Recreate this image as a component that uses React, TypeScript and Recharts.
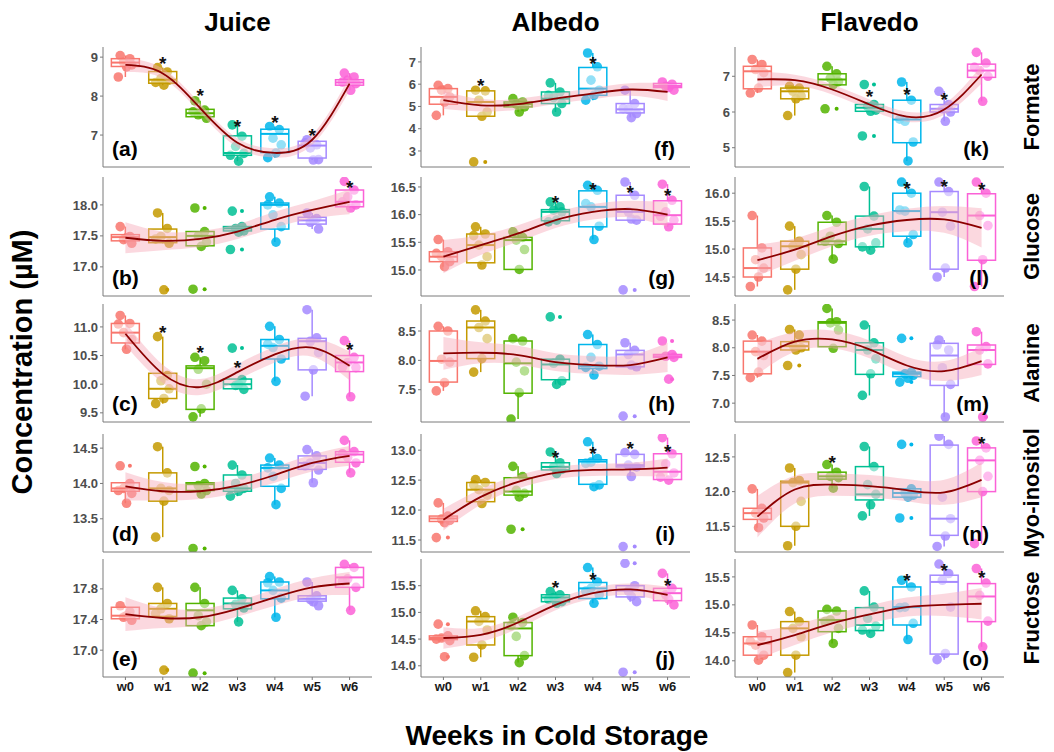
import React from "react";
import { ComposedChart, Bar, Line, Area, Scatter, XAxis, YAxis } from "recharts";

const WEEKS = ["w0", "w1", "w2", "w3", "w4", "w5", "w6"];
const TISSUES = ["Juice", "Albedo", "Flavedo"];
const METABOLITES = ["Formate", "Glucose", "Alanine", "Myo-inositol", "Fructose"];
const COLORS = ["#F8766D", "#C49A00", "#53B400", "#00C094", "#00B6EB", "#A58AFF", "#FB61D7"];
const JITTER = [-0.14, 0.12, -0.05, 0.17, 0.03, -0.19];

// box stats per week: [lower whisker, q1, median, q3, upper whisker]
// ---- Juice ----
const boxesA = [[8.49, 8.76, 8.86, 8.96, 9.04], [8.28, 8.33, 8.42, 8.63, 8.73], [7.43, 7.47, 7.56, 7.66, 7.88], [6.33, 6.48, 6.54, 6.98, 7.26], [6.42, 6.55, 7.03, 7.15, 7.22], [6.36, 6.41, 6.73, 6.84, 6.88], [8.15, 8.28, 8.35, 8.42, 8.59]];
const pointsA = [[9.04, 8.96, 8.87, 8.8, 8.75, 8.49], [8.73, 8.62, 8.45, 8.41, 8.28, 8.35], [7.88, 7.64, 7.52, 7.43, 7.56, 7.6], [7.26, 6.97, 6.71, 6.53, 6.33, 6.48], [7.22, 7.14, 6.92, 6.75, 6.54, 6.42], [6.88, 6.75, 6.67, 6.37, 6.36, 6.8], [8.59, 8.49, 8.41, 8.32, 8.15, 8.36]];
const trendA = [8.8, 8.58, 7.69, 6.8, 6.54, 6.88, 8.32];
const bandA = [0.18, 0.13, 0.12, 0.12, 0.12, 0.13, 0.18];
const starsA = [null, 8.93, 8.11, 7.3, 7.41, 7.07, null];
const ticksA = [7, 8, 9];
const domainA = [6.18, 9.26];

const boxesB = [[17.38, 17.42, 17.48, 17.52, 17.65], [17.38, 17.39, 17.48, 17.61, 17.87], [17.33, 17.34, 17.5, 17.57, 17.57], [17.56, 17.58, 17.62, 17.65, 17.65], [17.4, 17.61, 18.0, 18.03, 18.13], [17.61, 17.69, 17.75, 17.8, 17.87], [17.95, 17.97, 18.05, 18.24, 18.38]];
const pointsB = [[17.65, 17.49, 17.44, 17.38, 17.47], [17.87, 17.62, 17.49, 17.38, 16.63, 17.45], [17.95, 17.57, 17.5, 17.4, 17.33, 16.64], [17.9, 17.65, 17.62, 17.58, 17.56, 17.28], [18.13, 18.03, 17.84, 17.65, 17.4, 18.0], [17.87, 17.78, 17.72, 17.61, 17.75], [18.38, 18.24, 18.13, 18.0, 17.95, 18.05]];
const trendB = [17.47, 17.42, 17.45, 17.57, 17.76, 17.92, 18.05];
const bandB = [0.25, 0.15, 0.13, 0.12, 0.13, 0.14, 0.2];
const starsB = [null, null, null, null, null, null, 18.34];
const ticksB = [17.0, 17.5, 18.0];
const domainB = [16.53, 18.45];

const boxesC = [[10.61, 10.72, 10.9, 11.06, 11.2], [9.66, 9.75, 9.92, 10.19, 10.83], [9.43, 9.56, 10.28, 10.32, 10.47], [9.91, 9.92, 10.0, 10.09, 10.09], [10.05, 10.44, 10.67, 10.78, 11.01], [9.79, 10.25, 10.75, 10.8, 11.3], [9.78, 10.22, 10.38, 10.5, 10.76]];
const pointsC = [[11.2, 11.06, 10.9, 10.78, 10.61, 11.05], [10.83, 10.15, 10.06, 9.92, 9.75, 9.66], [10.47, 10.41, 10.26, 10.0, 9.57, 9.43], [10.63, 10.08, 9.98, 9.91, 10.0], [11.01, 10.78, 10.64, 10.44, 10.05, 10.7], [11.3, 10.81, 10.75, 10.55, 10.25, 9.79], [10.76, 10.47, 10.38, 10.29, 9.78, 10.3]];
const trendC = [10.88, 10.18, 9.95, 10.21, 10.52, 10.64, 10.32];
const bandC = [0.2, 0.16, 0.14, 0.14, 0.14, 0.16, 0.25];
const starsC = [null, 10.97, 10.61, 10.35, null, null, 10.67];
const ticksC = [9.5, 10.0, 10.5, 11.0];
const domainC = [9.34, 11.4];

const boxesD = [[13.72, 13.89, 13.93, 14.01, 14.01], [13.24, 13.75, 13.93, 14.15, 14.52], [13.85, 13.9, 13.99, 14.01, 14.01], [13.82, 13.89, 13.93, 14.12, 14.26], [13.7, 13.96, 14.22, 14.26, 14.36], [14.01, 14.2, 14.29, 14.39, 14.48], [14.15, 14.3, 14.41, 14.45, 14.61]];
const pointsD = [[14.25, 14.0, 13.93, 13.86, 13.72, 13.9], [14.52, 14.15, 13.93, 13.9, 13.75, 13.24], [14.24, 14.0, 13.97, 13.9, 13.85, 13.08], [14.26, 14.12, 14.0, 13.93, 13.89, 13.82], [14.36, 14.26, 14.1, 13.93, 13.7, 14.22], [14.48, 14.39, 14.29, 14.19, 14.01, 14.25], [14.61, 14.45, 14.37, 14.29, 14.15, 14.42]];
const trendD = [13.96, 13.89, 13.89, 13.97, 14.12, 14.29, 14.39];
const bandD = [0.2, 0.13, 0.11, 0.1, 0.11, 0.12, 0.14];
const starsD = [null, null, null, null, null, null, null];
const ticksD = [13.5, 14.0, 14.5];
const domainD = [13.03, 14.7];

const boxesE = [[17.39, 17.41, 17.45, 17.56, 17.58], [17.41, 17.44, 17.54, 17.61, 17.82], [17.32, 17.32, 17.52, 17.61, 17.82], [17.37, 17.54, 17.61, 17.68, 17.78], [17.43, 17.67, 17.78, 17.89, 17.96], [17.58, 17.64, 17.67, 17.71, 17.89], [17.52, 17.82, 17.95, 18.08, 18.12]];
const pointsE = [[17.58, 17.5, 17.43, 17.39, 17.45], [17.82, 17.61, 17.54, 17.41, 16.74, 17.48], [17.82, 17.61, 17.45, 17.37, 17.32, 16.7], [17.78, 17.67, 17.6, 17.55, 17.37], [17.96, 17.89, 17.78, 17.68, 17.43, 17.88], [17.89, 17.71, 17.66, 17.58, 17.63], [18.12, 18.08, 17.93, 17.82, 17.52, 17.9]];
const trendE = [17.47, 17.42, 17.43, 17.54, 17.69, 17.82, 17.87];
const bandE = [0.22, 0.13, 0.11, 0.1, 0.11, 0.12, 0.15];
const starsE = [null, null, null, null, null, null, null];
const ticksE = [17.0, 17.4, 17.8];
const domainE = [16.65, 18.19];

// ---- Albedo ----
const boxesF = [[4.6, 5.1, 5.43, 5.8, 5.95], [4.56, 4.56, 5.2, 5.7, 5.73], [4.75, 4.98, 5.1, 5.2, 5.35], [4.75, 5.13, 5.35, 5.65, 6.06], [5.28, 5.5, 5.8, 6.75, 7.4], [4.5, 4.71, 4.87, 5.13, 5.73], [5.73, 5.85, 5.92, 6.03, 6.1]];
const pointsF = [[5.95, 5.8, 5.73, 5.43, 5.2, 4.6], [5.73, 5.7, 5.28, 4.75, 4.56, 2.51], [5.35, 5.2, 5.1, 4.98, 4.75], [6.06, 5.65, 5.4, 5.13, 4.75, 5.5], [7.4, 6.78, 6.18, 5.73, 5.5, 5.28], [5.73, 5.13, 4.87, 4.68, 4.5, 4.9], [6.1, 6.0, 5.9, 5.73, 5.85]];
const trendF = [5.28, 5.05, 5.1, 5.35, 5.58, 5.76, 5.65];
const bandF = [0.4, 0.28, 0.25, 0.24, 0.25, 0.28, 0.4];
const starsF = [null, 6.1, null, null, 7.1, null, null];
const ticksF = [3, 4, 5, 6, 7];
const domainF = [2.28, 7.67];

const boxesG = [[15.06, 15.15, 15.24, 15.33, 15.55], [15.09, 15.13, 15.45, 15.65, 15.78], [15.01, 15.01, 15.54, 15.59, 15.69], [15.87, 15.89, 16.05, 16.09, 16.23], [15.55, 15.78, 16.14, 16.43, 16.53], [15.9, 15.9, 16.05, 16.35, 16.59], [15.78, 15.83, 15.99, 16.25, 16.55]];
const pointsG = [[15.55, 15.33, 15.24, 15.15, 15.06, 15.3], [15.78, 15.65, 15.45, 15.24, 15.09, 15.62], [15.69, 15.59, 15.54, 15.37, 15.01], [16.23, 16.14, 16.08, 16.05, 15.9, 15.87], [16.53, 16.44, 16.14, 15.79, 15.55, 16.2], [16.59, 16.35, 16.05, 15.9, 15.92, 14.64], [16.55, 16.26, 16.05, 15.9, 15.78, 15.97]];
const trendG = [15.24, 15.45, 15.66, 15.9, 16.05, 16.1, 16.0];
const bandG = [0.3, 0.18, 0.15, 0.14, 0.14, 0.15, 0.22];
const starsG = [null, null, null, 16.29, 16.51, 16.47, 16.41];
const ticksG = [15.0, 15.5, 16.0, 16.5];
const domainG = [14.53, 16.68];

const boxesH = [[7.48, 7.63, 7.99, 8.5, 8.58], [7.8, 8.03, 8.56, 8.67, 8.86], [7.0, 7.44, 7.95, 8.33, 8.37], [7.59, 7.67, 7.93, 8.02, 8.02], [7.75, 7.86, 7.9, 8.27, 8.44], [7.89, 7.89, 8.1, 8.17, 8.3], [8.04, 8.05, 8.07, 8.1, 8.1]];
const pointsH = [[8.58, 8.5, 8.02, 7.97, 7.62, 7.48], [8.86, 8.67, 8.56, 8.37, 8.03, 7.8], [8.37, 8.33, 7.97, 7.82, 7.45, 7.0], [8.74, 8.02, 7.95, 7.65, 7.59], [8.44, 8.27, 8.05, 7.9, 7.75, 7.88], [8.3, 8.17, 8.1, 7.89, 7.92, 7.05], [8.33, 8.1, 8.07, 8.05, 7.68]];
const trendH = [8.12, 8.13, 8.09, 7.97, 7.92, 7.92, 8.05];
const bandH = [0.28, 0.18, 0.16, 0.15, 0.15, 0.17, 0.25];
const starsH = [null, null, null, null, null, null, null];
const ticksH = [7.0, 7.5, 8.0, 8.5];
const domainH = [6.95, 8.96];

const boxesI = [[11.79, 11.81, 11.86, 11.9, 12.12], [12.11, 12.14, 12.34, 12.46, 12.51], [12.22, 12.25, 12.31, 12.54, 12.73], [12.61, 12.67, 12.72, 12.79, 12.97], [12.39, 12.43, 12.81, 12.84, 13.14], [12.56, 12.72, 12.75, 12.93, 12.96], [12.5, 12.51, 12.64, 12.94, 13.21]];
const pointsI = [[12.12, 11.9, 11.85, 11.83, 11.79, 11.54], [12.51, 12.46, 12.34, 12.25, 12.11, 12.42], [12.73, 12.56, 12.33, 12.28, 12.22, 11.68], [12.97, 12.79, 12.72, 12.68, 12.61], [13.14, 12.86, 12.8, 12.42, 12.39, 12.78], [12.96, 12.93, 12.75, 12.72, 12.56, 11.39], [13.21, 12.94, 12.77, 12.62, 12.5, 12.55]];
const trendI = [11.84, 12.22, 12.47, 12.62, 12.67, 12.68, 12.71];
const bandI = [0.18, 0.13, 0.11, 0.1, 0.1, 0.11, 0.15];
const starsI = [null, null, null, 12.94, 13.01, 13.08, 13.03];
const ticksI = [11.5, 12.0, 12.5, 13.0];
const domainI = [11.3, 13.27];

const boxesJ = [[14.47, 14.49, 14.52, 14.56, 14.56], [14.16, 14.39, 14.83, 14.92, 15.03], [14.06, 14.19, 14.7, 14.81, 14.91], [15.17, 15.2, 15.28, 15.33, 15.39], [15.17, 15.26, 15.45, 15.56, 15.84], [15.2, 15.29, 15.41, 15.5, 15.5], [15.14, 15.22, 15.36, 15.45, 15.73]];
const pointsJ = [[14.78, 14.56, 14.52, 14.47, 14.17, 14.5], [15.03, 14.92, 14.83, 14.67, 14.39, 14.16], [14.91, 14.81, 14.55, 14.19, 14.06, 14.75], [15.39, 15.33, 15.28, 15.2, 15.17, 15.25], [15.84, 15.57, 15.45, 15.33, 15.17, 15.4], [15.92, 15.5, 15.4, 15.2, 15.3, 13.88], [15.73, 15.45, 15.33, 15.14, 15.25]];
const trendJ = [14.52, 14.58, 14.81, 15.14, 15.36, 15.43, 15.33];
const bandJ = [0.2, 0.13, 0.11, 0.1, 0.1, 0.11, 0.15];
const starsJ = [null, null, null, 15.54, 15.68, null, 15.57];
const ticksJ = [14.0, 14.5, 15.0, 15.5];
const domainJ = [13.79, 16.0];

// ---- Flavedo ----
const boxesK = [[6.53, 6.65, 7.14, 7.28, 7.47], [5.9, 6.37, 6.58, 6.67, 6.72], [6.74, 6.76, 6.91, 7.07, 7.28], [6.02, 6.02, 6.12, 6.21, 6.21], [4.63, 5.14, 5.79, 6.33, 6.84], [5.74, 6.0, 6.09, 6.21, 6.58], [6.3, 6.97, 7.16, 7.34, 7.67]];
const pointsK = [[7.47, 7.33, 7.19, 7.1, 6.67, 6.53], [6.72, 6.67, 6.58, 6.45, 6.37, 5.9], [7.28, 7.07, 6.95, 6.85, 6.77, 6.09], [6.77, 6.21, 6.15, 6.05, 6.02, 5.33], [6.84, 6.33, 5.74, 5.16, 4.63, 5.8], [6.58, 6.21, 6.09, 6.0, 5.74], [7.67, 7.37, 7.16, 7.0, 6.3, 7.25]];
const trendK = [6.91, 6.89, 6.63, 6.21, 5.87, 6.07, 7.05];
const bandK = [0.22, 0.15, 0.14, 0.14, 0.14, 0.15, 0.25];
const starsK = [null, null, null, 6.53, 6.58, 6.44, null];
const ticksK = [5, 6, 7];
const domainK = [4.46, 7.82];

const boxesL = [[14.33, 14.5, 14.66, 15.02, 15.6], [14.27, 14.64, 15.05, 15.14, 15.41], [14.82, 15.08, 15.14, 15.48, 15.6], [14.98, 15.04, 15.36, 15.59, 16.12], [15.11, 15.23, 15.68, 16.0, 16.2], [14.5, 14.64, 15.66, 16.03, 16.2], [14.33, 14.8, 15.6, 15.99, 16.2]];
const pointsL = [[15.6, 15.02, 14.81, 14.66, 14.5, 14.33], [15.41, 15.14, 15.05, 14.9, 14.64, 14.27], [15.6, 15.48, 15.23, 15.1, 14.82, 15.14], [16.12, 15.59, 15.36, 15.11, 14.98, 15.04], [16.2, 16.0, 15.68, 15.26, 15.11, 15.7], [16.2, 16.03, 15.66, 15.41, 14.66, 14.5], [16.2, 16.0, 15.6, 15.42, 14.81, 14.33]];
const trendL = [14.8, 14.99, 15.23, 15.42, 15.52, 15.53, 15.38];
const bandL = [0.28, 0.2, 0.18, 0.18, 0.2, 0.24, 0.35];
const starsL = [null, null, null, null, 16.14, 16.19, 16.13];
const ticksL = [14.5, 15.0, 15.5, 16.0];
const domainL = [14.16, 16.29];

const boxesM = [[7.46, 7.53, 7.93, 8.12, 8.23], [7.96, 7.96, 8.03, 8.11, 8.33], [7.99, 8.02, 8.45, 8.47, 8.71], [7.14, 7.52, 7.96, 8.09, 8.41], [7.45, 7.48, 7.53, 7.56, 7.56], [6.75, 7.32, 7.86, 8.08, 8.14], [7.7, 7.7, 7.96, 8.05, 8.29]];
const pointsM = [[8.23, 8.12, 7.93, 7.86, 7.56, 7.46], [8.33, 8.23, 8.05, 8.0, 7.96, 7.68], [8.71, 8.47, 8.45, 8.32, 7.99], [8.41, 8.09, 7.96, 7.8, 7.53, 7.14], [8.17, 7.56, 7.53, 7.5, 7.45, 7.38], [8.14, 7.96, 7.64, 7.34, 6.75, 8.05], [8.29, 8.02, 7.96, 7.71, 6.75]];
const trendM = [7.8, 8.11, 8.15, 7.97, 7.68, 7.58, 7.76];
const bandM = [0.28, 0.18, 0.16, 0.16, 0.16, 0.18, 0.25];
const starsM = [null, null, null, null, null, null, null];
const ticksM = [7.0, 7.5, 8.0, 8.5];
const domainM = [6.66, 8.79];

const boxesN = [[11.48, 11.6, 11.69, 11.76, 12.04], [11.22, 11.5, 12.13, 12.15, 12.34], [12.05, 12.18, 12.22, 12.28, 12.39], [11.65, 11.88, 11.96, 12.36, 12.65], [11.92, 11.92, 11.98, 12.04, 12.04], [11.21, 11.37, 11.61, 12.67, 12.8], [11.25, 12.0, 12.45, 12.63, 12.73]];
const pointsN = [[12.04, 11.76, 11.69, 11.62, 11.48], [12.34, 12.16, 12.13, 11.86, 11.5, 11.22], [12.39, 12.28, 12.22, 12.2, 12.05], [12.65, 12.36, 12.1, 11.96, 11.81, 11.65], [12.68, 12.04, 11.98, 11.95, 11.92, 11.62], [12.8, 12.68, 11.92, 11.61, 11.36, 11.21], [12.73, 12.63, 12.45, 12.22, 12.0, 11.25]];
const trendN = [11.64, 12.03, 12.1, 12.08, 12.02, 11.99, 12.17];
const bandN = [0.3, 0.2, 0.16, 0.16, 0.16, 0.18, 0.25];
const starsN = [null, null, 12.47, null, null, null, 12.74];
const ticksN = [11.5, 12.0, 12.5];
const domainN = [11.13, 12.83];

const boxesO = [[14.01, 14.1, 14.31, 14.43, 14.64], [13.79, 14.1, 14.58, 14.7, 14.88], [14.31, 14.52, 14.73, 14.89, 14.92], [14.49, 14.54, 14.64, 14.95, 15.25], [14.38, 14.64, 14.96, 15.32, 15.44], [14.02, 14.12, 15.41, 15.53, 15.73], [14.25, 14.7, 15.15, 15.38, 15.65]];
const pointsO = [[14.64, 14.43, 14.28, 14.1, 14.01, 14.35], [14.88, 14.7, 14.58, 14.43, 14.1, 13.79], [14.92, 14.89, 14.73, 14.58, 14.31, 14.7], [15.25, 14.96, 14.76, 14.62, 14.49, 14.55], [15.44, 15.32, 14.96, 14.67, 14.38, 14.95], [15.73, 15.56, 15.44, 14.96, 14.13, 14.02], [15.65, 15.39, 15.17, 14.71, 14.25]];
const trendO = [14.28, 14.46, 14.67, 14.83, 14.96, 15.0, 15.02];
const bandO = [0.25, 0.18, 0.16, 0.16, 0.17, 0.2, 0.28];
const starsO = [null, null, null, null, 15.5, 15.68, 15.56];
const ticksO = [14.0, 14.5, 15.0, 15.5];
const domainO = [13.71, 15.82];

// panels listed column by column (Juice a-e, Albedo f-j, Flavedo k-o)
const PANELS = [
  { tag: "a", boxes: boxesA, points: pointsA, trend: trendA, band: bandA, stars: starsA, ticks: ticksA, domain: domainA },
  { tag: "b", boxes: boxesB, points: pointsB, trend: trendB, band: bandB, stars: starsB, ticks: ticksB, domain: domainB },
  { tag: "c", boxes: boxesC, points: pointsC, trend: trendC, band: bandC, stars: starsC, ticks: ticksC, domain: domainC },
  { tag: "d", boxes: boxesD, points: pointsD, trend: trendD, band: bandD, stars: starsD, ticks: ticksD, domain: domainD },
  { tag: "e", boxes: boxesE, points: pointsE, trend: trendE, band: bandE, stars: starsE, ticks: ticksE, domain: domainE },
  { tag: "f", boxes: boxesF, points: pointsF, trend: trendF, band: bandF, stars: starsF, ticks: ticksF, domain: domainF },
  { tag: "g", boxes: boxesG, points: pointsG, trend: trendG, band: bandG, stars: starsG, ticks: ticksG, domain: domainG },
  { tag: "h", boxes: boxesH, points: pointsH, trend: trendH, band: bandH, stars: starsH, ticks: ticksH, domain: domainH },
  { tag: "i", boxes: boxesI, points: pointsI, trend: trendI, band: bandI, stars: starsI, ticks: ticksI, domain: domainI },
  { tag: "j", boxes: boxesJ, points: pointsJ, trend: trendJ, band: bandJ, stars: starsJ, ticks: ticksJ, domain: domainJ },
  { tag: "k", boxes: boxesK, points: pointsK, trend: trendK, band: bandK, stars: starsK, ticks: ticksK, domain: domainK },
  { tag: "l", boxes: boxesL, points: pointsL, trend: trendL, band: bandL, stars: starsL, ticks: ticksL, domain: domainL },
  { tag: "m", boxes: boxesM, points: pointsM, trend: trendM, band: bandM, stars: starsM, ticks: ticksM, domain: domainM },
  { tag: "n", boxes: boxesN, points: pointsN, trend: trendN, band: bandN, stars: starsN, ticks: ticksN, domain: domainN },
  { tag: "o", boxes: boxesO, points: pointsO, trend: trendO, band: bandO, stars: starsO, ticks: ticksO, domain: domainO },
];

const FONT = '"Liberation Sans", Arial, sans-serif';
const YW = 40;
const PW = 269;
const BOX_W = 28;
const COL_LEFT = [103, 421, 735];
const ROW_TOP = [47, 177, 304, 434, 559];
const ROW_H = [120, 119, 118, 118, 118];
const FRAME = "#7a7a7a";

function BoxShape(props: any) {
  const { x, y, width, height, payload } = props;
  if (!payload || !payload.stats) return null;
  const [lo, q1, med, q3, hi] = payload.stats;
  // q3 sits at y, q1 at y + height: map other stats linearly between them
  const px = (v: number) => y + (height * (q3 - v)) / (q3 - q1);
  const cx = x + (width || 0) / 2;
  const left = cx - BOX_W / 2;
  const c = COLORS[payload.x];
  return (
    <g>
      <line x1={cx} x2={cx} y1={px(hi)} y2={px(q3)} stroke={c} strokeWidth={1.5} />
      <line x1={cx} x2={cx} y1={px(q1)} y2={px(lo)} stroke={c} strokeWidth={1.5} />
      <rect x={left} y={Math.min(px(q3), px(q1))} width={BOX_W} height={Math.abs(px(q1) - px(q3))} fill="#fff" fillOpacity={0.5} stroke={c} strokeWidth={1.5} />
      <line x1={left} x2={left + BOX_W} y1={px(med)} y2={px(med)} stroke={c} strokeWidth={2} />
    </g>
  );
}

const Dot = (props: any) => (
  <circle cx={props.cx} cy={props.cy} r={4.8} fill={COLORS[props.payload.g]} fillOpacity={0.85} />
);
const SmallDot = (props: any) => (
  <circle cx={props.cx} cy={props.cy} r={2} fill={COLORS[props.payload.g]} />
);
const Star = (props: any) => (
  <text x={props.cx} y={props.cy + 10} textAnchor="middle" fontSize={19} fontWeight="bold" fill="#111" fontFamily={FONT}>*</text>
);

function Panel({ p, col, row }: { p: any; col: number; row: number }) {
  const last = row === 4;
  const h = ROW_H[row];
  const data = WEEKS.map((w, i) => ({
    x: i,
    box: [p.boxes[i][1], p.boxes[i][3]],
    stats: p.boxes[i],
    trend: p.trend[i],
    band: [p.trend[i] - p.band[i], p.trend[i] + p.band[i]],
  }));
  const pts = p.points.flatMap((vals: number[], g: number) =>
    vals.map((v, k) => ({ x: g + JITTER[k % JITTER.length], y: v, g }))
  );
  const outs = p.points.flatMap((vals: number[], g: number) =>
    vals.filter((v) => v < p.boxes[g][0] || v > p.boxes[g][4]).map((v) => ({ x: g + 0.12, y: v, g }))
  );
  const stars = p.stars
    .map((s: number | null, g: number) => (s == null ? null : { x: g, y: s }))
    .filter(Boolean);
  const digits = p.ticks.every((t: number) => Number.isInteger(t)) ? 0 : 1;
  const xh = last ? 22 : 5;
  return (
    <div style={{ position: "absolute", left: COL_LEFT[col] - YW, top: ROW_TOP[row] }}>
      <ComposedChart width={YW + PW} height={h + xh} data={data} margin={{ top: 0, right: 0, bottom: 0, left: 0 }}>
        <XAxis
          type="number"
          dataKey="x"
          domain={[-0.6, 6.6]}
          ticks={[0, 1, 2, 3, 4, 5, 6]}
          tickFormatter={(v) => WEEKS[v]}
          allowDataOverflow
          height={xh}
          tickSize={3}
          tickMargin={2}
          stroke={FRAME}
          tick={last ? { fill: "#1a1a1a", fontSize: 13, fontWeight: "bold", fontFamily: FONT } : false}
        />
        <XAxis xAxisId="top" orientation="top" type="number" domain={[-0.6, 6.6]} allowDataOverflow height={0} tick={false} tickLine={false} stroke={FRAME} />
        <YAxis
          type="number"
          domain={p.domain}
          ticks={p.ticks}
          allowDataOverflow
          width={YW}
          tickSize={3}
          tickMargin={2}
          stroke={FRAME}
          tickFormatter={(v) => Number(v).toFixed(digits)}
          tick={{ fill: "#4d4d4d", fontSize: 13, fontWeight: "bold", fontFamily: FONT }}
        />
        <YAxis yAxisId="right" orientation="right" type="number" domain={p.domain} allowDataOverflow width={0} tick={false} tickLine={false} stroke={FRAME} />
        <Scatter data={pts} dataKey="y" shape={Dot} isAnimationActive={false} zIndex={50} />
        {outs.length > 0 && <Scatter data={outs} dataKey="y" shape={SmallDot} isAnimationActive={false} zIndex={60} />}
        <Bar dataKey="box" barSize={BOX_W} shape={BoxShape} isAnimationActive={false} zIndex={150} />
        <Area dataKey="band" type="natural" fill="#f6a9b8" fillOpacity={0.45} stroke="none" isAnimationActive={false} zIndex={200} />
        <Line dataKey="trend" type="natural" stroke="#8b0000" strokeWidth={1.8} dot={false} activeDot={false} isAnimationActive={false} zIndex={400} />
        {stars.length > 0 && <Scatter data={stars} dataKey="y" shape={Star} isAnimationActive={false} zIndex={700} />}
      </ComposedChart>
    </div>
  );
}

export default function App() {
  return (
    <div style={{ position: "relative", width: 1054, height: 752, background: "#fff", fontFamily: FONT, overflow: "hidden" }}>
      <style>{`body{margin:0}`}</style>
      {PANELS.map((p, i) => (
        <Panel key={p.tag} p={p} col={Math.floor(i / 5)} row={i % 5} />
      ))}
      <svg width={1054} height={752} style={{ position: "absolute", left: 0, top: 0, pointerEvents: "none" }} fontFamily={FONT} fontWeight="bold">
        {TISSUES.map((t, c) => (
          <text key={t} x={COL_LEFT[c] + PW / 2} y={31} textAnchor="middle" fontSize={26} fill="#000">{t}</text>
        ))}
        {METABOLITES.map((m, r) => (
          <text key={m} transform={`translate(1031, ${ROW_TOP[r] + ROW_H[r] / 2}) rotate(-90)`} textAnchor="middle" dominantBaseline="central" fontSize={22} fill="#000">{m}</text>
        ))}
        {PANELS.map((p, i) => {
          const col = Math.floor(i / 5);
          const row = i % 5;
          const y = ROW_TOP[row] + ROW_H[row] - 11;
          return col === 0 ? (
            <text key={p.tag} x={COL_LEFT[col] + 9} y={y} fontSize={21} fill="#000">({p.tag})</text>
          ) : (
            <text key={p.tag} x={COL_LEFT[col] + PW - 15} y={y} textAnchor="end" fontSize={21} fill="#000">({p.tag})</text>
          );
        })}
        <text transform="translate(22, 362) rotate(-90)" textAnchor="middle" dominantBaseline="central" fontSize={29} fill="#000">Concentration (µM)</text>
        <text x={557} y={745} textAnchor="middle" fontSize={28} fill="#000">Weeks in Cold Storage</text>
      </svg>
    </div>
  );
}
